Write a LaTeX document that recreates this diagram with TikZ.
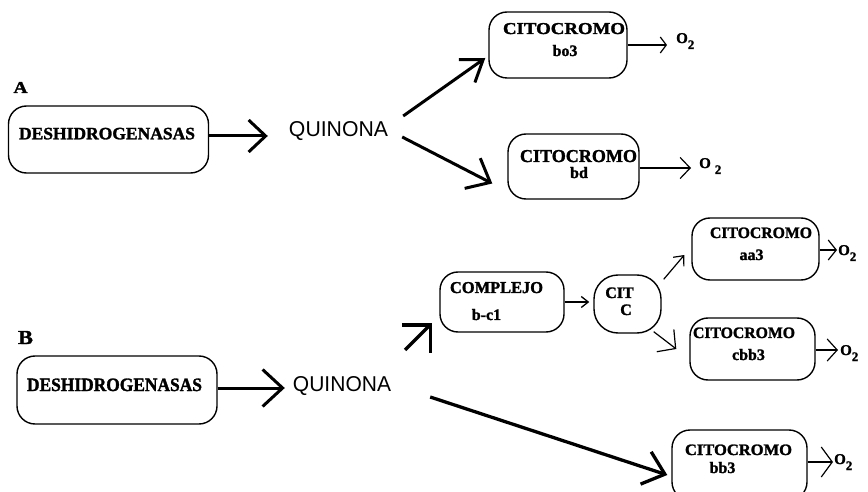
\documentclass[tikz,border=0pt]{standalone}
\usepackage{graphicx}
\usepackage{fontspec}
\setmainfont{Liberation Serif}[BoldFeatures={FakeBold=1.6}]
\newfontfamily\qsans{Liberation Sans}
\usetikzlibrary{arrows.meta,calc}
\newcommand{\fitbox}[3]{\resizebox{#1bp}{#2bp}{#3}}
\newcommand{\Otwo}[1][0]{\fontsize{15}{15}\selectfont\textbf{O}\kern#1bp\raisebox{-6bp}{\fontsize{13}{13}\selectfont\textbf{2}}}
\tikzset{
  box/.style={draw, line width=1.4bp, rounded corners=18bp, inner sep=0pt},
  txt/.style={inner sep=0pt, anchor=base},
  lbl/.style={inner sep=0pt, anchor=base, font=\fontsize{16}{16}\selectfont\bfseries},
  otwo/.style={inner sep=0pt, anchor=base west},
  big/.style={line width=3bp, -{Straight Barb[length=17bp,width=32bp]}},
  small/.style={line width=1.3bp, -{Straight Barb[length=8bp,width=18bp]}}
}
\begin{document}
\begin{tikzpicture}[x=1bp,y=-1bp]
\useasboundingbox (0,0) rectangle (868,492);
\clip (0,0) rectangle (868,492);
\fill[white] (0,0) rectangle (868,492);

% boxes
\node[box, minimum width=200bp, minimum height=67bp] (desA) at (108.5,139.5) {};
\node[box, minimum width=200bp, minimum height=68bp] (desB) at (117,390) {};
\node[box, minimum width=138bp, minimum height=66bp] (bo3) at (558,45) {};
\node[box, minimum width=131bp, minimum height=65bp] (bd) at (573.5,166.5) {};
\node[box, minimum width=124bp, minimum height=60bp] (cpx) at (502,302) {};
\node[box, rounded corners=24bp, minimum width=67bp, minimum height=58bp] (citc) at (627.5,304) {};
\node[box, minimum width=127bp, minimum height=62bp] (aa3) at (755.5,249) {};
\node[box, minimum width=125bp, minimum height=62bp] (cbb3) at (752.5,349) {};
\node[box, minimum width=135bp, minimum height=70bp] (bb3) at (739.5,465) {};

% texts
\node[txt] (tA) at (20.5,93) {\fitbox{14}{11}{\bfseries A}};
\node[txt] (tB) at (25.5,344) {\fitbox{15}{13}{\bfseries B}};
\node[txt] (desAt) at (107,139.3) {\fitbox{176}{11.5}{\bfseries DESHIDROGENASAS}};
\node[txt] (desBt) at (114.5,391) {\fitbox{175}{12.5}{\bfseries DESHIDROGENASAS}};
\node[txt] (quinAt) at (338.5,137) {\fitbox{99}{15}{\qsans QUINONA}};
\node[txt] (quinBt) at (342,391) {\fitbox{98}{15}{\qsans QUINONA}};

\node[txt] (bo3a) at (564,34) {\fitbox{122}{11}{\bfseries CITOCROMO}};
\node[lbl] (bo3b) at (565,56) {bo3};
\node[txt] (bda) at (578.5,162) {\fitbox{117}{12}{\bfseries CITOCROMO}};
\node[lbl] (bdb) at (579,178) {bd};
\node[txt] (cpxa) at (496.5,293) {\fitbox{93}{11}{\bfseries COMPLEJO}};
\node[lbl] (cpxb) at (486.5,320) {b-c1};
\node[lbl] (citca) at (619.5,298) {CIT};
\node[lbl] (citcb) at (626,315) {C};
\node[txt] (aa3a) at (761,238) {\fitbox{102}{10.5}{\bfseries CITOCROMO}};
\node[lbl] (aa3b) at (751.5,260) {aa3};
\node[txt] (cbb3a) at (744,338) {\fitbox{102}{10.5}{\bfseries CITOCROMO}};
\node[lbl] (cbb3b) at (748.5,360) {cbb3};
\node[txt] (bb3a) at (738.5,455) {\fitbox{107}{10.5}{\bfseries CITOCROMO}};
\node[lbl] (bb3b) at (722.5,473) {bb3};

% O2 labels
\node[otwo] (o1) at (676,43) {\Otwo};
\node[otwo] (o2) at (699,168) {\Otwo[4]};
\node[otwo] (o3) at (838,255) {\Otwo};
\node[otwo] (o4) at (840,355) {\Otwo};
\node[otwo] (o5) at (834,464) {\Otwo};

% free coordinates of the lone arrow
\coordinate (sA) at (405,350);
\coordinate (sB) at (432,323);

% A connectors
\draw[big] ($(desA.east)+(0,-3.5)$) -- ($(quinAt.west |- desA.east)+(-21,-3.5)$);
\draw[line width=3bp, -{Straight Barb[length=20bp,width=28bp]}] ($(quinAt.base east)+(15,-21)$) -- ($(bo3.west)+(-3,13)$);
\draw[line width=3bp, -{Straight Barb[length=20bp,width=34bp]}] ($(quinAt.base east)+(14,0)$) -- ($(bd.west)+(-15,17)$);
\draw[line width=1.2bp, -{Straight Barb[length=6bp,width=16bp]}, shorten >=9bp] (bo3.east) -- (bo3.east -| o1.west);
\draw[line width=1.2bp, -{Straight Barb[length=10bp,width=21bp]}, shorten >=8bp] ($(bd.east)+(0,1.5)$) -- ($(bd.east -| o2.west)+(0,1.5)$);

% B connectors
\draw[line width=3bp, -{Straight Barb[length=20bp,width=37bp]}] ($(desB.east)+(0,-2)$) -- ($(quinBt.west |- desB.east)+(-8,-2)$);
\draw[line width=3.5bp, -{Straight Barb[length=20bp,width=40bp]}] (sA) -- (sB);
\draw[line width=3.3bp, -{Straight Barb[length=20bp,width=34bp]}] ($(quinBt.base east)+(39,6)$) -- ($(bb3.west)+(-4,10)$);
\draw[line width=1.3bp, -{Straight Barb[length=7bp,width=11bp]}] (cpx.east) -- ($(citc.west |- cpx.east)+(-4,0)$);
\draw[line width=1.2bp, -{Straight Barb[length=8bp,width=14bp]}] ($(citc.north east)+(2,5)$) -- ($(aa3.west)+(-7,6)$);
\draw[line width=1.2bp, -{Straight Barb[length=13bp,width=28bp]}] ($(citc.south east)+(-8,-2)$) -- ($(cbb3.west)+(-13,0)$);
\draw[line width=1.2bp, -{Straight Barb[length=8bp,width=20bp]}, shorten >=1bp] ($(aa3.east)+(0,1)$) -- ($(aa3.east -| o3.west)+(0,1)$);
\draw[line width=1.2bp, -{Straight Barb[length=10bp,width=22bp]}, shorten >=2bp] ($(cbb3.east)+(0,1)$) -- ($(cbb3.east -| o4.west)+(0,1)$);
\draw[line width=1.2bp, -{Straight Barb[length=11bp,width=30bp]}, shorten >=1bp] ($(bb3.east)+(0,-3)$) -- ($(bb3.east -| o5.west)+(0,-3)$);
\end{tikzpicture}
\end{document}
